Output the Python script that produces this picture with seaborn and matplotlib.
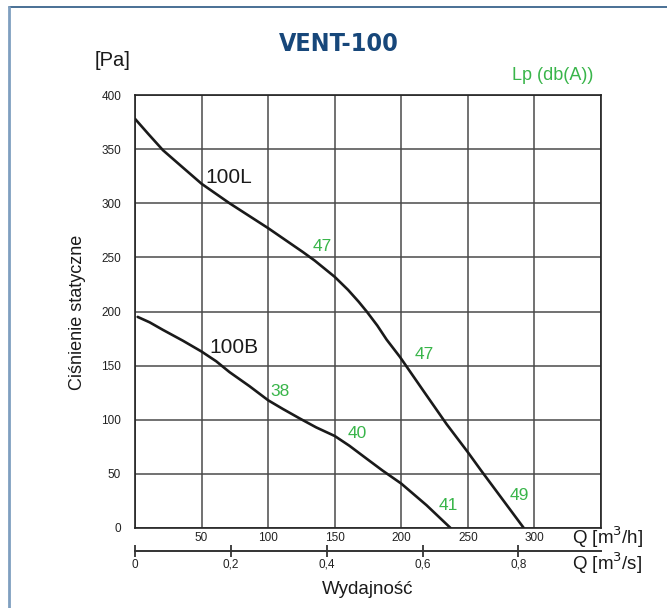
import matplotlib
matplotlib.use("Agg")
import matplotlib.pyplot as plt
import matplotlib.ticker as mticker
from matplotlib.lines import Line2D
import seaborn as sns
import pandas as pd

# data
q_100L = [0, 10, 21, 35, 50, 71, 100, 126, 135, 150, 160, 168, 174, 182, 189, 199, 217, 234, 250, 260, 292]
p_100L = [378, 364, 349, 334, 318, 300, 277, 255, 247, 232, 220, 209, 200, 187, 174, 158, 126, 96, 70, 53, 0]
q_100B = [2, 11, 21, 36, 50, 61, 71, 86, 100, 111, 124, 136, 150, 161, 174, 186, 200, 219, 237]
p_100B = [195, 190, 183, 173, 163, 154, 144, 131, 118, 110, 101, 93, 85, 76, 64, 53, 41, 21, 0]

curve_names = ["100L", "100B"]
curve_label_pos = [(52.5, 324), (55.5, 167)]

noise_values = ["47", "47", "49", "38", "40", "41"]
noise_pos = [(133.5, 260), (210, 160), (281.5, 30), (102, 126), (160, 87), (228, 21)]

q_ticks = [50, 100, 150, 200, 250, 300]
p_ticks = [0, 50, 100, 150, 200, 250, 300, 350, 400]
qs_ticks = [0, 0.2, 0.4, 0.6, 0.8]

GREEN = "#39b54a"
BLUE = "#17477a"

sns.set_style("white")
plt.rcParams["font.family"] = ["Liberation Sans", "DejaVu Sans"]

W, H = 667, 608
fig = plt.figure(figsize=(W / 100, H / 100), dpi=100)
ax = fig.add_axes([135 / W, 1 - 528 / H, 466 / W, 433 / H])

df = pd.concat([
    pd.DataFrame({"Q": q_100L, "P": p_100L, "typ": "100L"}),
    pd.DataFrame({"Q": q_100B, "P": p_100B, "typ": "100B"}),
])
sns.lineplot(data=df, x="Q", y="P", units="typ", estimator=None,
             color="#1a1a1a", linewidth=1.9, ax=ax, legend=False)
for ln in ax.lines:
    ln.set_solid_joinstyle("round")

ax.set_xlim(0, 350)
ax.set_ylim(0, 400)
ax.set_xticks(q_ticks)
ax.set_yticks(p_ticks)
ax.xaxis.set_minor_locator(mticker.FixedLocator([0, 350]))
ax.grid(True, which="both", color="#4a4a4a", linewidth=1.1)
ax.tick_params(axis="x", length=0, pad=3, labelsize=8.5, colors="#222222")
ax.tick_params(axis="y", length=0, pad=10, labelsize=8.5, colors="#222222")
for s in ax.spines.values():
    s.set_color("#222222")
    s.set_linewidth(1.2)
ax.set_xlabel("")
ax.set_ylabel("")

for name, (x, y) in zip(curve_names, curve_label_pos):
    ax.text(x, y, name, fontsize=15, color="#1a1a1a", va="center", ha="left")
for v, (x, y) in zip(noise_values, noise_pos):
    ax.text(x, y, v, fontsize=12.5, color=GREEN, va="center", ha="left")

# second flow axis in m3/s
sec = ax.secondary_xaxis(-23 / 433, functions=(lambda x: x / 360, lambda x: x * 360))
sec.set_xticks(qs_ticks)
sec.xaxis.set_major_formatter(mticker.FuncFormatter(
    lambda v, p: "0" if v == 0 else f"{v:.1f}".replace(".", ",")))
sec.tick_params(direction="inout", length=9, width=1.2, pad=1, labelsize=8.5,
                colors="#222222")
sec.spines["bottom"].set_color("#333333")
sec.spines["bottom"].set_linewidth(1.4)

def ftext(px, py, s, **kw):
    fig.text(px / W, 1 - py / H, s, **kw)

ftext(339, 44, "VENT-100", fontsize=18, fontweight="bold", color=BLUE,
      ha="center", va="center", family="DejaVu Sans", fontstretch="condensed")
ftext(95, 60, "[Pa]", fontsize=14.5, color="#1a1a1a", ha="left", va="center")
ftext(593, 76, "Lp (db(A))", fontsize=13, color=GREEN, ha="right", va="center")
ftext(78, 312, "Ciśnienie statyczne", fontsize=13, color="#1a1a1a",
      rotation=90, ha="center", va="center")
ftext(572, 537, "Q [m$^3$/h]", fontsize=13.5, color="#1a1a1a", ha="left", va="center")
ftext(572, 563, "Q [m$^3$/s]", fontsize=13.5, color="#1a1a1a", ha="left", va="center")
ftext(368, 590, "Wydajność", fontsize=13.5, color="#1a1a1a", ha="center", va="center")

# frame of the card
fig.add_artist(Line2D([9 / W, 1], [1 - 7 / H, 1 - 7 / H], color="#2a5783", linewidth=1.2))
fig.add_artist(Line2D([9 / W, 9 / W], [0, 1 - 7 / H], color="#7f9fc0", linewidth=2))

fig.savefig("out.png", dpi=100)
